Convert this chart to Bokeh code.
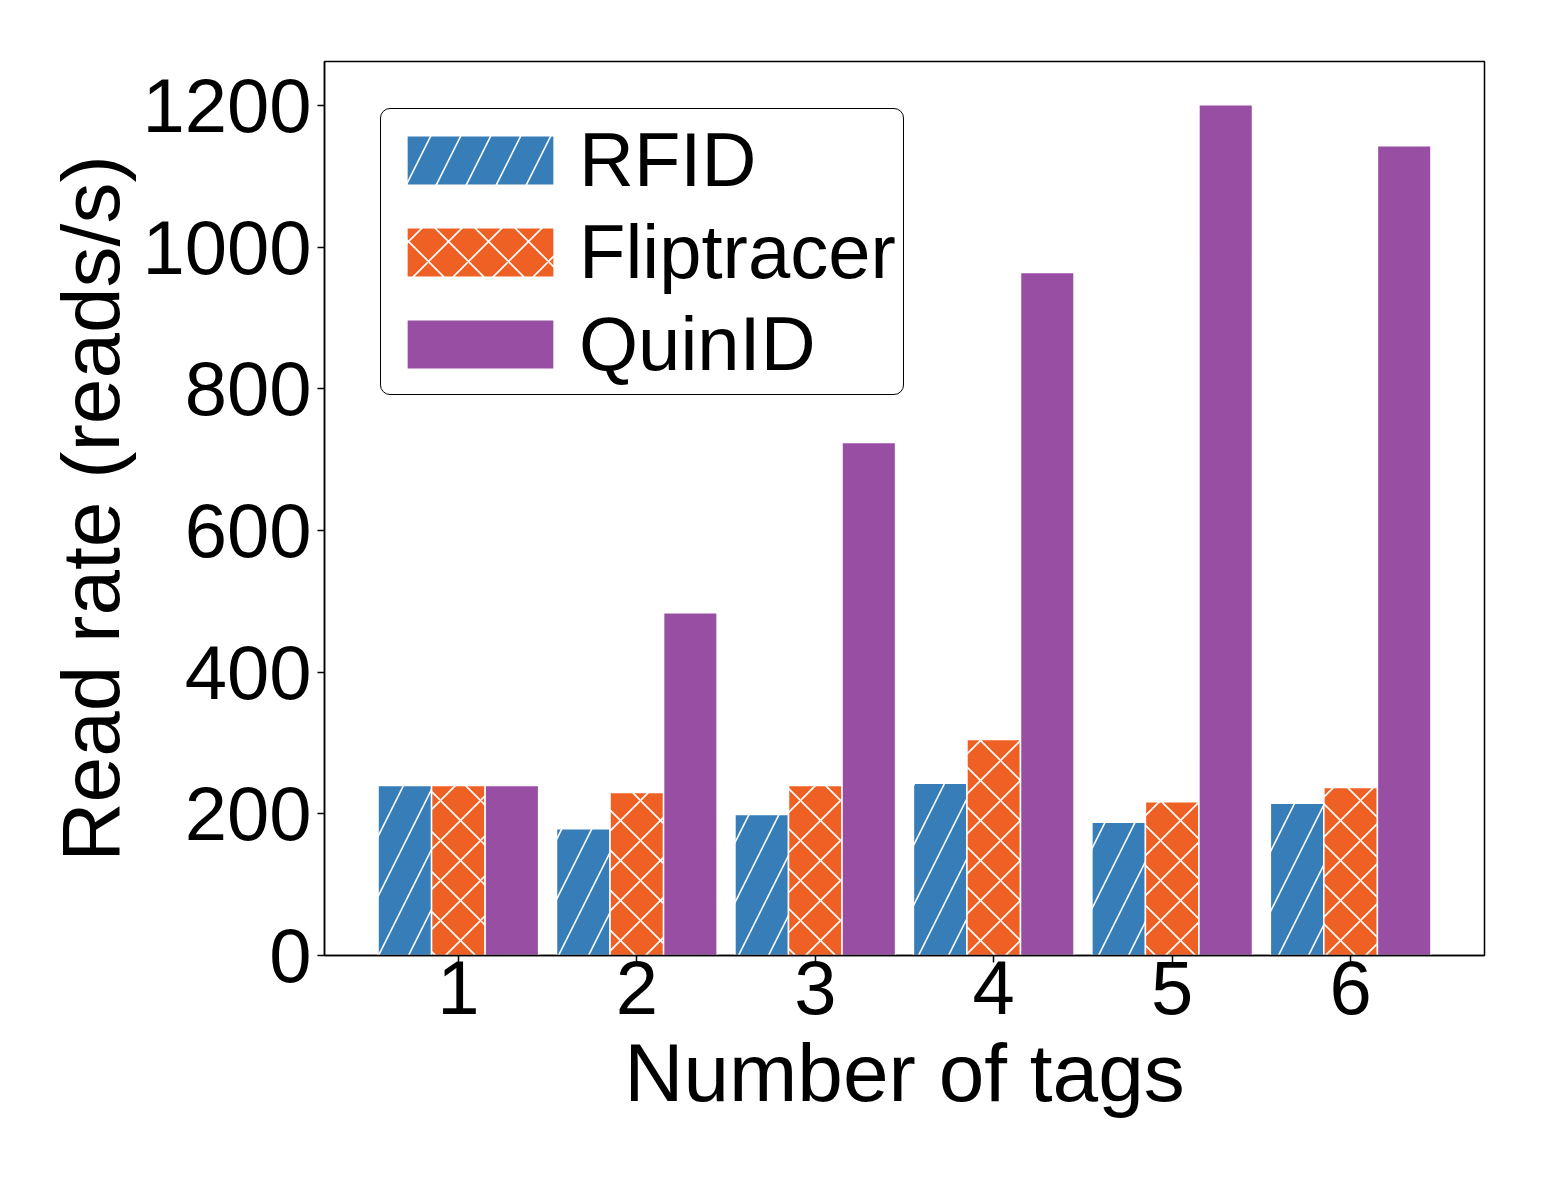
from bokeh.plotting import figure
from bokeh.models import ColumnDataSource, Legend, LegendItem, FixedTicker, Range1d
from bokeh.embed import file_html
from bokeh.resources import INLINE
from bokeh.transform import dodge

tags = [1, 2, 3, 4, 5, 6]
rfid = [240, 179, 199, 243, 188, 215]
fliptracer = [240, 230, 240, 305, 217, 237]
quinid = [240, 484, 724, 964, 1201, 1143]
series_names = ["RFID", "Fliptracer", "QuinID"]
colors = ["#377eb8", "#ef6024", "#984ea3"]
hatches = ["/", "x", None]
y_ticks = [0, 200, 400, 600, 800, 1000, 1200]

FONT = "Liberation Sans"

src = ColumnDataSource(dict(x=tags, RFID=rfid, Fliptracer=fliptracer, QuinID=quinid))

p = figure(
    frame_width=1160, frame_height=894,
    min_border_left=324, min_border_top=61, min_border_right=54, min_border_bottom=210,
    x_range=Range1d(0.25, 6.75), y_range=Range1d(0, 1262),
    output_backend="svg", toolbar_location=None,
)

renderers = []
offsets = [-0.3, 0.0, 0.3]
scales = [60, 40, 40]
for name, col, h, off, sc in zip(series_names, colors, hatches, offsets, scales):
    kw = dict(x=dodge("x", off, range=p.x_range), top=name, width=0.3, source=src,
              fill_color=col, line_color="white", line_width=1.5)
    if h is not None:
        kw.update(hatch_pattern=h, hatch_color="white", hatch_scale=sc, hatch_weight=1.6)
    r = p.vbar(**kw)
    renderers.append(r)

p.xgrid.visible = False
p.ygrid.visible = False
p.outline_line_color = "black"
p.outline_line_width = 1.5
p.outline_line_alpha = 1.0

for ax in (p.xaxis[0], p.yaxis[0]):
    ax.axis_line_color = "black"
    ax.axis_line_width = 1.5
    ax.major_tick_line_color = "black"
    ax.major_tick_line_width = 1.5
    ax.major_tick_out = 7
    ax.major_tick_in = 0
    ax.minor_tick_line_color = None
    ax.major_label_text_font = FONT
    ax.major_label_text_font_size = "76px"
    ax.major_label_text_color = "black"
    ax.axis_label_text_font = FONT
    ax.axis_label_text_font_size = "82px"
    ax.axis_label_text_font_style = "normal"
    ax.axis_label_text_color = "black"

p.xaxis.ticker = FixedTicker(ticks=tags)
p.yaxis.ticker = FixedTicker(ticks=y_ticks)
p.xaxis.axis_label = "Number of tags"
p.yaxis.axis_label = "Read rate (reads/s)"
p.xaxis.major_label_standoff = -2
p.yaxis.major_label_standoff = 6
p.xaxis.axis_label_standoff = 10
p.yaxis.axis_label_standoff = 3

legend = Legend(
    items=[LegendItem(label=n, renderers=[r]) for n, r in zip(series_names, renderers)],
    location=(56, 560),
    glyph_width=184, glyph_height=62,
    label_text_font=FONT, label_text_font_size="76px", label_text_color="black",
    label_standoff=7, spacing=5, padding=7,
    border_line_color="black", border_line_width=1.5, border_line_alpha=1.0,
    background_fill_alpha=1.0, margin=0,
)
try:
    legend.border_radius = 10
except Exception:
    pass
p.add_layout(legend, "center")

open("out.html", "w").write(file_html(p, INLINE))
